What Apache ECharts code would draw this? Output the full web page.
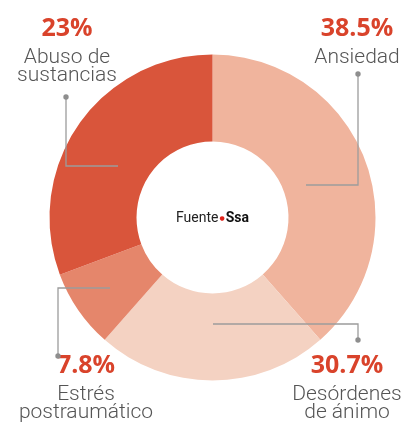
<!DOCTYPE html>
<html>
<head>
<meta charset="utf-8">
<script src="https://cdn.jsdelivr.net/npm/echarts@6/dist/echarts.min.js"></script>
<style>
html, body { margin: 0; padding: 0; background: #fff; }
#chart { width: 403px; height: 425px; }
</style>
</head>
<body>
<div id="chart"></div>
<script>
// slices clockwise from 12 o'clock
var categories = ['Ansiedad', 'Desórdenes\nde ánimo', 'Estrés\npostraumático', 'Abuso de\nsustancias'];
var sliceValues = [38.5, 23, 7.8, 30.7];
var percentLabels = ['38.5%', '30.7%', '7.8%', '23%'];
var sliceColors = ['#f0b49d', '#f4d2c2', '#e5866b', '#d9553b'];

// label boxes (center x, top y) and leader lines, same order
var labelAnchors = [[357, 9], [347, 346], [86, 346], [67, 9]];
var leaderLines = [
    [[306, 185], [358, 185], [358, 74]],
    [[213, 324], [358, 324], [358, 340]],
    [[110, 288], [58, 288], [58, 356]],
    [[118, 166], [66, 166], [66, 97]]
];

var pieData = categories.map(function (name, i) {
    return { name: name, value: sliceValues[i], itemStyle: { color: sliceColors[i] } };
});

var graphics = [];
leaderLines.forEach(function (pts) {
    graphics.push({
        type: 'polyline', silent: true, z: 10,
        shape: { points: pts },
        style: { stroke: '#9c9c9c', lineWidth: 1.3, fill: null }
    });
    var end = pts[pts.length - 1];
    graphics.push({
        type: 'circle', silent: true, z: 11,
        shape: { cx: end[0], cy: end[1], r: 2.7 },
        style: { fill: '#8e8e8e' }
    });
});
graphics.push({
    type: 'text', silent: true, z: 12,
    x: 212.5, y: 218,
    style: {
        text: '{a|Fuente}{d|●}{b|Ssa}',
        align: 'center', verticalAlign: 'middle',
        rich: {
            a: { fontFamily: 'Roboto', fontSize: 14, fill: '#222' },
            d: { fontFamily: 'DejaVu Sans', fontSize: 6, fill: '#e2231a', padding: [0, 1, 0, 1] },
            b: { fontFamily: 'Roboto', fontSize: 14, fontWeight: 'bold', fill: '#111' }
        }
    }
});

var chart = echarts.init(document.getElementById('chart'));
chart.setOption({
    animation: false,
    graphic: graphics,
    series: [{
        type: 'pie',
        center: [212.5, 217.5],
        radius: [76, 163],
        startAngle: 90,
        clockwise: true,
        silent: true,
        emphasis: { disabled: true },
        itemStyle: { borderWidth: 0 },
        data: pieData,
        labelLine: { show: false },
        label: {
            show: true,
            overflow: 'none',
            formatter: function (p) {
                var lines = categories[p.dataIndex].split('\n').map(function (s) {
                    return '{n|' + s + '}';
                });
                return '{p|' + percentLabels[p.dataIndex] + '}\n' + lines.join('\n');
            },
            rich: {
                p: { fontFamily: 'Open Sans', fontSize: 25, fontWeight: 'bold', color: '#d9432b', lineHeight: 40, align: 'center' },
                n: { fontFamily: 'Roboto', fontSize: 21, fontWeight: 300, color: '#555', lineHeight: 18, align: 'center' }
            }
        },
        labelLayout: function (params) {
            var a = labelAnchors[params.dataIndex];
            return { x: a[0], y: a[1], align: 'center', verticalAlign: 'top' };
        }
    }]
});
</script>
</body>
</html>
